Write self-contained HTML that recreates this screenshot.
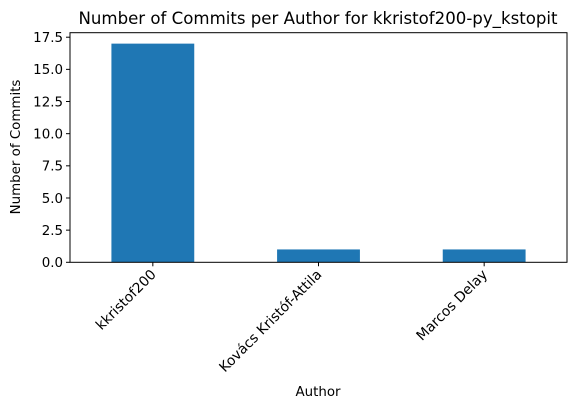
<!DOCTYPE html>
<html><head><meta charset="utf-8"><style>
body{margin:0;background:#fff}
svg text{font-family:"DejaVu Sans","Liberation Sans",sans-serif;fill:#000}
</style></head><body>
<svg width="576" height="409" viewBox="0 0 576 409">
<text x="318" y="24" font-size="16.6" text-anchor="middle">Number of Commits per Author for kkristof200-py_kstopit</text>
<g id="plot"></g>
<text transform="translate(20,147) rotate(-90)" font-size="13.4" text-anchor="middle">Number of Commits</text>
<text x="318" y="396" font-size="13.4" text-anchor="middle">Author</text>
</svg>
<script>
const categories = ["kkristof200", "Kovács Kristóf-Attila", "Marcos Delay"];
const commits = [17, 1, 1];
const yTicks = [0, 2.5, 5, 7.5, 10, 12.5, 15, 17.5];
const NS = "http://www.w3.org/2000/svg";
const L = 70, R = 567, T = 32.7, B = 262.3, yMax = 17.85;
const y = v => B - v / yMax * (B - T);
const cw = (R - L) / categories.length;
const x = i => L + cw * (i + 0.5);
const g = document.getElementById('plot');
function mk(tag, attrs) { const e = document.createElementNS(NS, tag); for (const k in attrs) e.setAttribute(k, attrs[k]); g.appendChild(e); return e; }
commits.forEach((v, i) => {
  const r = mk('rect', {x: x(i) - cw / 4, y: y(v), width: cw / 2, height: B - y(v), fill: '#1f77b4'});
  
  
});
yTicks.forEach(t => {
  const l = mk('line', {x1: L - 4, x2: L, y1: y(t), y2: y(t), stroke: '#000', 'stroke-width': 1});
  
  
  const tx = mk('text', {x: L - 7, y: y(t) + 4.8, 'font-size': 13.4, 'text-anchor': 'end'});
  tx.textContent = t.toFixed(1);
  
  
});
categories.forEach((c, i) => {
  const l = mk('line', {x1: x(i), x2: x(i), y1: B, y2: B + 4, stroke: '#000', 'stroke-width': 1});
  
  
  const tx = mk('text', {transform: `translate(${x(i) + 4},${B + 13}) rotate(-45)`, 'font-size': 13.9, 'text-anchor': 'end'});
  tx.textContent = c;
  
  
});
const f = mk('rect', {x: L, y: T, width: R - L, height: B - T, fill: 'none', stroke: '#000', 'stroke-width': 1});


</script>
</body></html>
